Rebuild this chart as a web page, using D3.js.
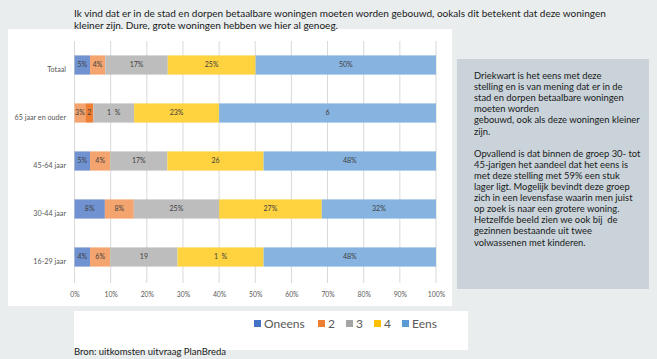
<!DOCTYPE html>
<html><head><meta charset="utf-8">
<script src="https://cdn.jsdelivr.net/npm/d3@7"></script>
<style>
html,body{margin:0;padding:0;background:#e9edee;}
svg{display:block;font-family:Lato, "Open Sans", sans-serif;}
text{white-space:pre;}
</style></head>
<body>
<svg id="c" width="657" height="359"></svg>
<script>
// ---- data ----
const categories = ["Totaal", "65 jaar en ouder", "45-64 jaar", "30-44 jaar", "16-29 jaar"];
const seriesNames = ["Oneens", "2", "3", "4", "Eens"];
const oneens = [4.3, 3.0, 4.3, 8.4, 4.3];
const twee   = [4.2, 2.2, 5.6, 8.0, 5.6];
const drie   = [17.3, 11.3, 15.8, 23.6, 18.6];
const vier   = [24.3, 23.5, 26.6, 28.4, 23.8];
const eens   = [49.9, 60.0, 47.7, 31.6, 47.7];
const oneensLabels = ["5%", "3%", "5%", "8%", "4%"];
const tweeLabels   = ["4%", "2", "4%", "8%", "6%"];
const drieLabels   = ["17%", "1  %", "17%", "25%", "19"];
const vierLabels   = ["25%", "23%", "26", "27%", "1  %"];
const eensLabels   = ["50%", "6", "48%", "32%", "48%"];
const tickValues = [0,10,20,30,40,50,60,70,80,90,100];
const titleLines = ["Ik vind dat er in de stad en dorpen betaalbare woningen moeten worden gebouwd, ookals dit betekent dat deze woningen",
                    "kleiner zijn. Dure, grote woningen hebben we hier al genoeg."];
const noteLines = ["Driekwart is het eens met deze","stelling en is van mening dat er in de","stad en dorpen betaalbare woningen","moeten worden","gebouwd, ook als deze woningen kleiner","zijn.","","Opvallend is dat binnen de groep 30- tot","45-jarigen het aandeel dat het eens is","met deze stelling met 59% een stuk","lager ligt. Mogelijk bevindt deze groep","zich in een levensfase waarin men juist","op zoek is naar een grotere woning.","Hetzelfde beeld zien we ook bij  de","gezinnen bestaande uit twee","volwassenen met kinderen."];
const sourceText = "Bron: uitkomsten uitvraag PlanBreda";

// ---- styles ----
const legendColors = ["#4472c4", "#ed7d31", "#a5a5a5", "#ffc000", "#5b9bd5"];
const barColors    = ["#7192d1", "#f4a46f", "#bdbdbd", "#ffd23f", "#86b3df"];
const pointOverride = {"65 jaar en ouder": ["#f4a46f", "#ee7f34"]};

const svg = d3.select("#c");
// panels
svg.append("rect").attr("x",8).attr("y",29).attr("width",444).attr("height",277).attr("fill","#fff");
svg.append("rect").attr("x",74).attr("y",311).attr("width",394).attr("height",39).attr("fill","#fff");
svg.append("rect").attr("x",457).attr("y",59).attr("width",192).attr("height",230).attr("fill","#c9d3d9");

// title
svg.append("g").selectAll("text").data(titleLines).join("text")
  .attr("x",74).attr("y",(d,i)=>17+i*12).attr("font-size",10).attr("fill","#1a1a1a").text(d=>d);

const x = d3.scaleLinear().domain([0,100]).range([74.5,436]);
const y = d3.scaleBand().domain(categories).range([41,281]).paddingInner(0.6).paddingOuter(0.3);

// grid
svg.append("g").selectAll("line").data(tickValues).join("line")
  .attr("x1",d=>x(d)).attr("x2",d=>x(d)).attr("y1",41).attr("y2",283)
  .attr("stroke","#d9d9d9").attr("stroke-width",1);

// x axis
const xAxis = d3.axisBottom(x).tickValues(tickValues).tickFormat(d=>d+"%").tickSize(0);
const gx = svg.append("g").attr("transform","translate(0,289)").call(xAxis);
gx.select(".domain").remove();
gx.selectAll("text").attr("font-size",6.8).attr("fill","#595959").attr("font-family","Lato, sans-serif");

// y axis labels
const yAxis = d3.axisLeft(y).tickSize(0).tickPadding(0);
const gy = svg.append("g").attr("transform","translate(66,5)").call(yAxis);
gy.select(".domain").remove();
gy.selectAll("text").attr("font-size",7.2).attr("fill","#595959").attr("font-family","Lato, sans-serif");

// stack
const rows = categories.map((c,i)=>({cat:c, Oneens:oneens[i], "2":twee[i], "3":drie[i], "4":vier[i], Eens:eens[i]}));
const labelSets = [oneensLabels, tweeLabels, drieLabels, vierLabels, eensLabels];
const stack = d3.stack().keys(seriesNames)(rows);
const gb = svg.append("g");
stack.forEach((s,si)=>{
  const g = gb.append("g");
  g.selectAll("rect").data(s).join("rect")
    .attr("x",d=>x(d[0])).attr("width",d=>x(d[1])-x(d[0]))
    .attr("y",d=>y(d.data.cat)).attr("height",y.bandwidth())
    .attr("fill",d=> (pointOverride[d.data.cat] && pointOverride[d.data.cat][si]) || barColors[si]);
});
stack.forEach((s,si)=>{
  gb.append("g").selectAll("text").data(s).join("text")
    .attr("x",d=>(x(d[0])+x(d[1]))/2).attr("y",d=>y(d.data.cat)+y.bandwidth()/2)
    .attr("dy","0.35em").attr("text-anchor","middle").attr("font-size",7).attr("fill","#404040")
    .text((d,i)=>labelSets[si][i]);
});

// legend
const legX = [254, 318, 346, 374, 402];
const lg = svg.append("g");
seriesNames.forEach((n,i)=>{
  lg.append("rect").attr("x",legX[i]).attr("y",320).attr("width",7).attr("height",7).attr("fill",legendColors[i]);
  lg.append("text").attr("x",legX[i]+10).attr("y",327.5).attr("font-size",12).attr("fill","#595959").text(n);
});

// source
svg.append("text").attr("x",74).attr("y",355).attr("font-size",9.5).attr("fill","#1a1a1a").text(sourceText);

// note
svg.append("g").selectAll("text").data(noteLines).join("text")
  .attr("x",474).attr("y",(d,i)=>79+i*11.1).attr("font-size",9.4).attr("fill","#1a1a1a").text(d=>d);
</script>
</body></html>
